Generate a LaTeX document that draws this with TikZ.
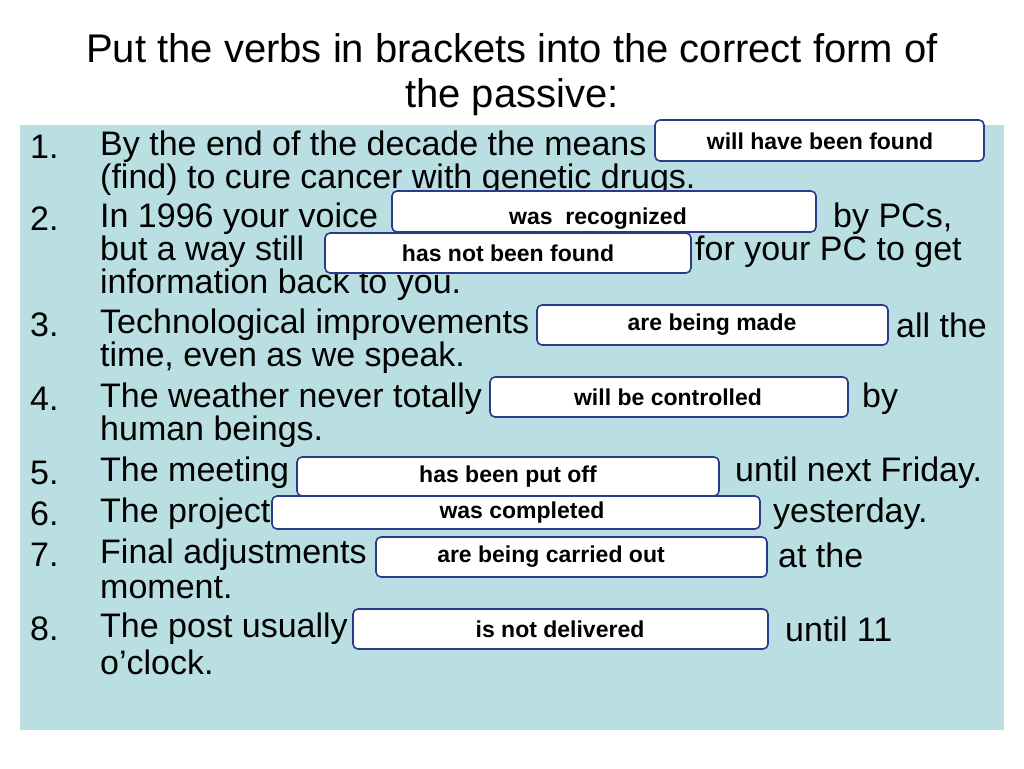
\documentclass[tikz,border=0pt]{standalone}
\usepackage{fontspec}
\setmainfont{Liberation Sans}
\begin{document}
\begin{tikzpicture}[x=1pt,y=-1pt,
  ln/.style={anchor=west,inner sep=0pt,font=\fontsize{34}{36}\selectfont},
  ttl/.style={inner sep=0pt,font=\fontsize{40}{42}\selectfont},
  ans/.style={draw=boxblue,line width=1.6pt,fill=white,rounded corners=5pt},
  anst/.style={inner sep=0pt,font=\bfseries\fontsize{23}{25}\selectfont}]
\definecolor{panel}{HTML}{B9DFE3}
\definecolor{boxblue}{HTML}{2E3A87}
\useasboundingbox (0,0) rectangle (1024,768);
\fill[panel] (20,125) rectangle (1004,730);
\node[ttl] (t1) at (512,48) {Put the verbs in brackets into the correct form of};
\node[ttl] (t2) at (512,97) {the passive:};
\foreach \n/\y in {1/147,2/219,3/325,4/399,5/473,6/514,7/555,8/629}
  \node[ln] (n\n) at (30,\y) {\n.};
\node[ln] (l1) at (100,147) {By the end of the decade the means};
\node[ln] (l1b) at (100,180) {(find) to cure cancer with genetic drugs.};
\node[ln] (l2) at (100,219) {In 1996 your voice};
\node[ln] (l2r) at (833,219) {by PCs,};
\node[ln] (l2b) at (100,252) {but a way still};
\node[ln] (l2br) at (695,252) {for your PC to get};
\node[ln] (l2c) at (100,285) {information back to you.};
\node[ln] (l3) at (100,325) {Technological improvements};
\node[ln] (l3r) at (896,325) {all the};
\node[ln] (l3b) at (100,358) {time, even as we speak.};
\node[ln] (l4) at (100,399) {The weather never totally};
\node[ln] (l4r) at (862,399) {by};
\node[ln] (l4b) at (100,432) {human beings.};
\node[ln] (l5) at (100,473) {The meeting};
\node[ln] (l5r) at (735,473) {until next Friday.};
\node[ln] (l6) at (100,514) {The project};
\node[ln] (l6r) at (773,514) {yesterday.};
\node[ln] (l7) at (100,555) {Final adjustments};
\node[ln] (l7r) at (778,555) {at the};
\node[ln] (l7b) at (100,588) {moment.};
\node[ln] (l8) at (100,629) {The post usually};
\node[ln] (l8r) at (785,629) {until 11};
\node[ln] (l8b) at (100,662) {o'clock.};
\foreach \i/\a/\b/\c/\d/\tx/\ty/\txt in {
 1/655/120/984/161/820/141/{will have been found},
 2/392/191/816/232/598/219/{was\ \ recognized},
 3/325/233/691/273/508/253/{has not been found},
 4/537/305/888/345/712/325/{are being made},
 5/490/377/848/417/668/397/{will be controlled},
 6/297/457/719/496/508/477/{has been put off},
 7/272/496/760/529/522/513/{was completed},
 8/376/537/767/577/551/557/{are being carried out},
 9/353/609/768/649/560/629/{is not delivered}}{
 \draw[ans] (\a,\b) rectangle (\c,\d);
 \node[anst] (a\i) at (\tx,\ty) {\txt};
}
\end{tikzpicture}
\end{document}
